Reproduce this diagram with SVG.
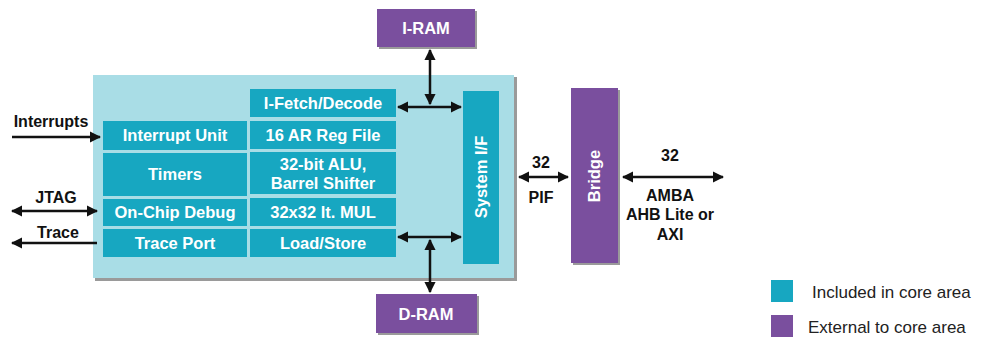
<svg xmlns="http://www.w3.org/2000/svg" width="988" height="339" viewBox="0 0 988 339">
<defs>
<marker id="ah" viewBox="0 0 10 10" refX="9" refY="5" markerWidth="4.5" markerHeight="4.5" orient="auto-start-reverse" markerUnits="strokeWidth">
<path d="M0,0 L10,5 L0,10 z" fill="#111"/>
</marker>
</defs>
<style>
.cell{fill:#17a7c1;}
.ct{fill:#fff;font-family:"Liberation Sans Narrow","Liberation Sans",Arial,sans-serif;font-weight:bold;font-size:16.5px;text-anchor:middle;}
.pur{fill:#7a4f9e;}
.sh{fill:#9a9a9a;}
.lbl{fill:#111;font-family:"Liberation Sans Narrow","Liberation Sans",Arial,sans-serif;font-weight:bold;font-size:16px;text-anchor:middle;}
.leg{fill:#222;font-family:"Liberation Sans Narrow","Liberation Sans",Arial,sans-serif;font-size:17px;}
.wire{stroke:#111;stroke-width:2.5;fill:none;}
</style>
<rect width="988" height="339" fill="#fff"/>

<g id="core">
<rect x="95" y="77" width="422" height="204" class="sh"/>
<rect x="93" y="75" width="421" height="203" fill="#a9dde6"/>
</g>

<g id="interrupt-unit"><rect class="cell" x="103" y="121" width="144" height="29"/><text class="ct" x="175" y="141">Interrupt Unit</text></g>
<g id="timers"><rect class="cell" x="103" y="153" width="144" height="43"/><text class="ct" x="175" y="180">Timers</text></g>
<g id="on-chip-debug"><rect class="cell" x="103" y="199" width="144" height="27"/><text class="ct" x="175" y="218">On-Chip Debug</text></g>
<g id="trace-port"><rect class="cell" x="103" y="229" width="144" height="28"/><text class="ct" x="175" y="249">Trace Port</text></g>

<g id="ifetch"><rect class="cell" x="250" y="89" width="146" height="28"/><text class="ct" x="323" y="109">I-Fetch/Decode</text></g>
<g id="regfile"><rect class="cell" x="250" y="121" width="146" height="28"/><text class="ct" x="323" y="141">16 AR Reg File</text></g>
<g id="alu"><rect class="cell" x="250" y="152" width="146" height="42"/><text class="ct" x="323" y="170">32-bit ALU,</text><text class="ct" x="323" y="189">Barrel Shifter</text></g>
<g id="mul"><rect class="cell" x="250" y="198" width="146" height="28"/><text class="ct" x="323" y="218">32x32 lt. MUL</text></g>
<g id="loadstore"><rect class="cell" x="250" y="229" width="146" height="28"/><text class="ct" x="323" y="249">Load/Store</text></g>

<g id="system-if"><rect class="cell" x="463" y="91" width="36" height="173"/><text class="ct" transform="translate(487,177) rotate(-90)">System I/F</text></g>

<g id="iram"><rect class="sh" x="379" y="11" width="98" height="38"/><rect class="pur" x="377" y="9" width="98" height="38"/><text class="ct" x="426" y="34">I-RAM</text></g>
<g id="dram"><rect class="sh" x="378" y="296" width="101" height="39"/><rect class="pur" x="376" y="294" width="101" height="39"/><text class="ct" x="426" y="320">D-RAM</text></g>
<g id="bridge"><rect class="sh" x="573" y="90" width="47" height="175"/><rect class="pur" x="571" y="88" width="47" height="175"/><text class="ct" transform="translate(600,176) rotate(-90)" fill="#e8dff0">Bridge</text></g>

<g id="connectors">
<line class="wire" x1="430" y1="50" x2="430" y2="104" marker-start="url(#ah)" marker-end="url(#ah)"/>
<line class="wire" x1="398" y1="107" x2="461" y2="107" marker-start="url(#ah)" marker-end="url(#ah)"/>
<line class="wire" x1="398" y1="237" x2="461" y2="237" marker-start="url(#ah)" marker-end="url(#ah)"/>
<line class="wire" x1="430" y1="240" x2="430" y2="292" marker-start="url(#ah)" marker-end="url(#ah)"/>
<line class="wire" x1="519" y1="177" x2="568" y2="177" marker-start="url(#ah)" marker-end="url(#ah)"/>
<line class="wire" x1="623" y1="177" x2="723" y2="177" marker-start="url(#ah)" marker-end="url(#ah)"/>
<line class="wire" x1="12" y1="137" x2="100" y2="137" marker-end="url(#ah)"/>
<line class="wire" x1="12" y1="211" x2="97" y2="211" marker-start="url(#ah)" marker-end="url(#ah)"/>
<line class="wire" x1="12" y1="243" x2="97" y2="243" marker-start="url(#ah)"/>
</g>

<g id="labels">
<text class="lbl" x="51" y="127">Interrupts</text>
<text class="lbl" x="56" y="203">JTAG</text>
<text class="lbl" x="58" y="238">Trace</text>
<text class="lbl" x="541" y="168">32</text>
<text class="lbl" x="541" y="203">PIF</text>
<text class="lbl" x="670" y="161">32</text>
<text class="lbl" x="670" y="201">AMBA</text>
<text class="lbl" x="670" y="220">AHB Lite or</text>
<text class="lbl" x="670" y="240">AXI</text>
</g>

<g id="legend">
<rect class="cell" x="771" y="280" width="22" height="22"/>
<text class="leg" x="812" y="298">Included in core area</text>
<rect class="pur" x="771" y="315" width="22" height="22"/>
<text class="leg" x="808" y="333">External to core area</text>
</g>
</svg>
